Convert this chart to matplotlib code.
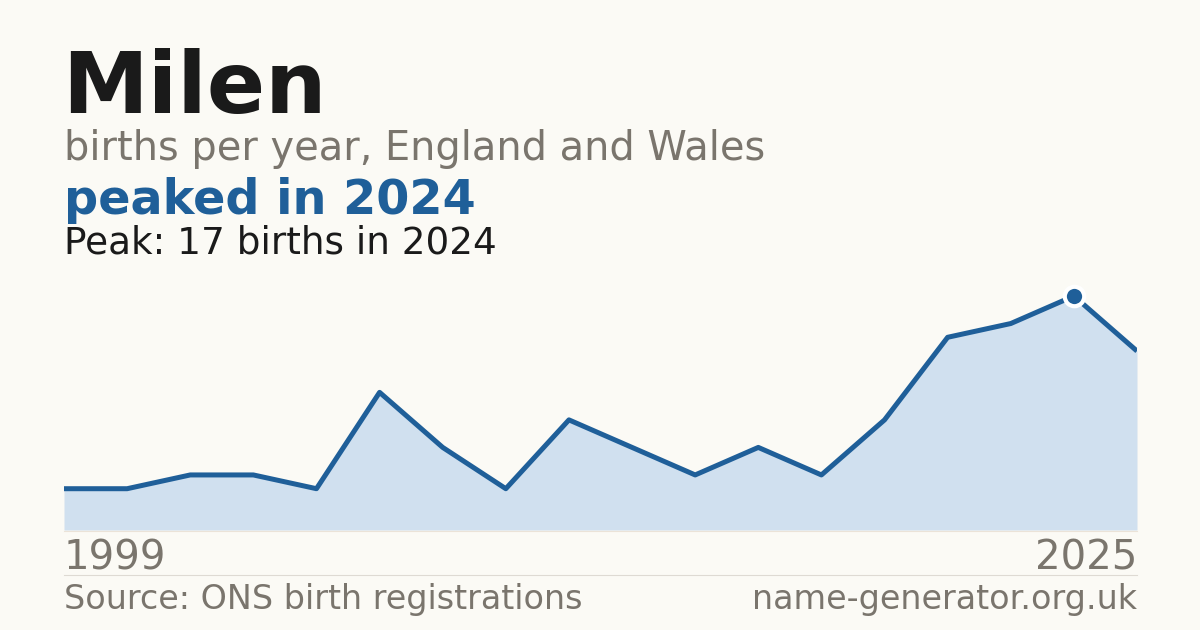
import matplotlib.pyplot as plt

plt.rcParams['font.family'] = ['DejaVu Sans']

NAME = 'Milen'
FIRST_YEAR = 1999
LAST_YEAR = 2025
PEAK_YEAR = 2024
# births per recorded year, in order (18 recorded years)
births = [3, 3, 4, 4, 3, 10, 6, 3, 8, 6, 4, 6, 4, 8, 14, 15, 17, 13]

BG = '#fbfaf5'
BLUE = '#1f5f99'
FILL = '#d0e0ef'
GREY = '#7a756d'
DARK = '#1a1a1a'

W, H = 1200, 630
fig = plt.figure(figsize=(12, 6.3), dpi=100, facecolor=BG)


def px(x, y):
    # pixel coords (from top-left) to figure fraction
    return x / W, 1 - y / H


left, right, bottom, top = 64, 1137, 530, 280
ax = fig.add_axes([left / W, 1 - bottom / H, (right - left) / W, (bottom - top) / H])
ax.set_facecolor('none')

xs = list(range(len(births)))
peak_i = births.index(max(births))
ax.fill_between(xs, births, 0, color=FILL, lw=0)
ax.plot(xs, births, color=BLUE, lw=3.6, solid_joinstyle='round', solid_capstyle='butt')
ax.plot(xs[peak_i], births[peak_i], 'o', ms=14, color=BLUE, mec='white', mew=3, zorder=5)
ax.set_xlim(0, len(births) - 1)
ax.set_ylim(0, max(births) * 250 / 234)
ax.axis('off')

fig.add_artist(plt.Line2D([left / W, right / W], [1 - 530.5 / H] * 2, color='#ebe3d8', lw=0.8))
fig.add_artist(plt.Line2D([left / W, right / W], [1 - 574.5 / H] * 2, color='#dedad3', lw=0.8))

fig.text(*px(62, 113), NAME, fontsize=62, fontweight='bold', color=DARK, va='baseline')
fig.text(*px(64, 160), 'births per year, England and Wales', fontsize=28.7, color=GREY, va='baseline')
fig.text(*px(64, 214), f'peaked in {PEAK_YEAR}', fontsize=34.4, fontweight='bold', color=BLUE, va='baseline')
fig.text(*px(64, 254), f'Peak: {max(births)} births in {PEAK_YEAR}', fontsize=26.9, color=DARK, va='baseline')

fig.text(*px(64, 570), str(FIRST_YEAR), fontsize=29, color=GREY, va='baseline')
fig.text(*px(1137, 570), str(LAST_YEAR), fontsize=29, color=GREY, va='baseline', ha='right')
fig.text(*px(64, 609), 'Source: ONS birth registrations', fontsize=24, color=GREY, va='baseline')
fig.text(*px(1137, 609), 'name-generator.org.uk', fontsize=24, color=GREY, va='baseline', ha='right')

fig.savefig('out.png', dpi=100, facecolor=BG)
